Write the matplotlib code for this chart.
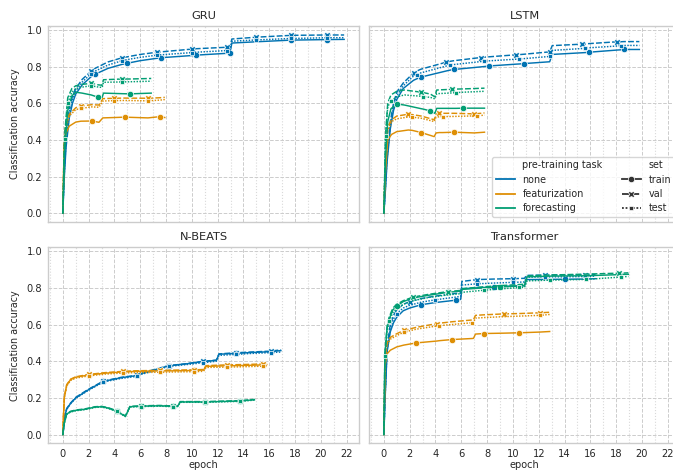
import numpy as np
import matplotlib
matplotlib.use('Agg')
import matplotlib.pyplot as plt
from matplotlib.lines import Line2D
from matplotlib.ticker import MultipleLocator

models = ['GRU', 'LSTM', 'N-BEATS', 'Transformer']
tasks = ['none', 'featurization', 'forecasting']
sets = ['train', 'val', 'test']

# ---- GRU ----
gru_none_epoch = [0, 0.1, 0.25, 0.5, 0.75, 1.0, 1.5, 2.2, 2.5, 3.5, 4.6, 5.0, 6.0, 7.3, 7.6, 10.0, 10.3, 12.7, 12.95, 13.1, 15.0, 17.7, 20.5, 21.8]
gru_none_train = [0.0, 0.18, 0.36, 0.52, 0.6, 0.65, 0.7, 0.745, 0.758, 0.79, 0.812, 0.818, 0.832, 0.845, 0.848, 0.86, 0.862, 0.872, 0.874, 0.928, 0.935, 0.944, 0.947, 0.948]
gru_none_val = [0.0, 0.22, 0.42, 0.57, 0.64, 0.68, 0.73, 0.775, 0.79, 0.825, 0.848, 0.853, 0.866, 0.878, 0.88, 0.895, 0.897, 0.905, 0.907, 0.95, 0.96, 0.97, 0.972, 0.972]
gru_none_test = [0.0, 0.2, 0.39, 0.55, 0.62, 0.665, 0.715, 0.762, 0.775, 0.808, 0.832, 0.838, 0.85, 0.862, 0.864, 0.876, 0.878, 0.887, 0.889, 0.938, 0.945, 0.953, 0.957, 0.957]
gru_none_marks = [[2.5, 5.0, 7.6, 10.3, 12.95, 17.7, 20.5], [2.2, 4.6, 7.3, 10.0, 12.7, 15.0, 17.7, 20.5], [2.2, 4.6, 7.3, 10.0, 12.7, 15.0, 17.7, 20.5]]

gru_feat_epoch = [0, 0.1, 0.2, 0.5, 1.0, 1.4, 2.25, 2.8, 3.1, 4.0, 4.78, 6.6, 7.55, 7.9]
gru_feat_train = [0.0, 0.36, 0.43, 0.475, 0.497, 0.502, 0.503, 0.496, 0.52, 0.522, 0.524, 0.52, 0.527, 0.522]
gru_feat_val = [0.0, 0.38, 0.47, 0.54, 0.575, 0.585, 0.592, 0.59, 0.625, 0.627, 0.628, 0.627, 0.63, 0.632]
gru_feat_test = [0.0, 0.37, 0.45, 0.53, 0.565, 0.572, 0.58, 0.578, 0.612, 0.614, 0.615, 0.613, 0.617, 0.62]
gru_feat_marks = [[2.25, 4.78, 7.55], [1.4, 4.0, 6.6], [1.4, 4.0, 6.6]]

gru_fore_epoch = [0, 0.13, 0.38, 0.7, 1.0, 1.5, 2.2, 2.76, 3.05, 3.15, 4.6, 5.2, 6.85]
gru_fore_train = [0.0, 0.33, 0.56, 0.64, 0.66, 0.655, 0.645, 0.632, 0.632, 0.655, 0.652, 0.651, 0.655]
gru_fore_val = [0.0, 0.42, 0.63, 0.68, 0.695, 0.703, 0.708, 0.7, 0.698, 0.728, 0.732, 0.732, 0.735]
gru_fore_test = [0.0, 0.404, 0.6, 0.66, 0.68, 0.688, 0.695, 0.688, 0.686, 0.714, 0.716, 0.717, 0.72]
gru_fore_marks = [[2.76, 5.2], [2.2, 4.6], [0.13, 0.38, 2.2, 4.6]]

# ---- LSTM ----
lstm_none_epoch = [0, 0.1, 0.25, 0.5, 0.75, 1.0, 1.5, 2.3, 2.55, 2.85, 4.85, 5.1, 5.45, 7.5, 7.8, 8.15, 10.25, 10.5, 10.85, 12.85, 13.05, 15.35, 15.6, 15.9, 18.1, 18.35, 18.6, 19.8]
lstm_none_train = [0.0, 0.1, 0.28, 0.46, 0.56, 0.62, 0.68, 0.725, 0.733, 0.742, 0.776, 0.78, 0.784, 0.798, 0.8, 0.803, 0.813, 0.814, 0.816, 0.826, 0.866, 0.875, 0.876, 0.878, 0.89, 0.891, 0.893, 0.893]
lstm_none_val = [0.0, 0.12, 0.32, 0.5, 0.6, 0.66, 0.71, 0.765, 0.775, 0.785, 0.824, 0.828, 0.832, 0.849, 0.851, 0.853, 0.864, 0.865, 0.867, 0.88, 0.914, 0.922, 0.923, 0.925, 0.935, 0.935, 0.936, 0.936]
lstm_none_test = [0.0, 0.11, 0.3, 0.48, 0.58, 0.64, 0.695, 0.748, 0.756, 0.765, 0.803, 0.807, 0.811, 0.827, 0.829, 0.831, 0.84, 0.841, 0.843, 0.855, 0.888, 0.898, 0.9, 0.902, 0.912, 0.914, 0.915, 0.915]
lstm_none_marks = [[2.85, 5.45, 8.15, 10.85, 15.9, 18.6], [2.3, 4.85, 7.5, 10.25, 12.85, 15.35, 18.1], [2.55, 5.1, 7.8, 10.5, 12.85, 15.6, 18.35]]

lstm_feat_epoch = [0, 0.1, 0.3, 0.6, 1.0, 1.9, 2.2, 2.9, 3.9, 4.05, 4.3, 4.55, 5.45, 7.0, 7.2, 7.8]
lstm_feat_train = [0.0, 0.2, 0.4, 0.43, 0.445, 0.454, 0.452, 0.44, 0.418, 0.438, 0.44, 0.44, 0.442, 0.438, 0.439, 0.442]
lstm_feat_val = [0.0, 0.25, 0.47, 0.51, 0.53, 0.54, 0.538, 0.53, 0.51, 0.54, 0.545, 0.545, 0.545, 0.542, 0.543, 0.547]
lstm_feat_test = [0.0, 0.24, 0.45, 0.5, 0.515, 0.525, 0.524, 0.518, 0.5, 0.524, 0.526, 0.527, 0.528, 0.531, 0.531, 0.535]
lstm_feat_marks = [[2.9, 5.45], [1.9, 4.3, 7.0], [2.2, 4.55, 7.2]]

lstm_fore_epoch = [0, 0.13, 0.3, 0.55, 1.0, 1.6, 2.9, 3.05, 3.6, 3.95, 4.1, 5.3, 5.58, 6.15, 7.8]
lstm_fore_train = [0.0, 0.3, 0.5, 0.57, 0.596, 0.59, 0.57, 0.568, 0.558, 0.545, 0.572, 0.572, 0.572, 0.573, 0.573]
lstm_fore_val = [0.0, 0.42, 0.6, 0.645, 0.665, 0.672, 0.66, 0.658, 0.65, 0.635, 0.672, 0.676, 0.677, 0.678, 0.682]
lstm_fore_test = [0.0, 0.42, 0.58, 0.613, 0.635, 0.645, 0.638, 0.636, 0.632, 0.624, 0.652, 0.656, 0.658, 0.66, 0.665]
lstm_fore_marks = [[1.0, 3.6, 6.15], [2.9, 5.3], [0.13, 0.55, 3.05, 5.58]]

# ---- N-BEATS ----
nbeats_none_epoch = [0, 0.05, 0.15, 0.3, 0.6, 1.0, 2.0, 3.15, 4.5, 5.75, 5.95, 7.2, 8.2, 9.5, 10.9, 11.9, 12.1, 13.4, 14.5, 16.1, 16.9]
nbeats_none_train = [0.0, 0.03, 0.1, 0.14, 0.17, 0.2, 0.245, 0.29, 0.31, 0.322, 0.33, 0.355, 0.375, 0.385, 0.398, 0.405, 0.438, 0.443, 0.447, 0.452, 0.458]
nbeats_none_val = [0.0, 0.03, 0.1, 0.142, 0.172, 0.203, 0.248, 0.292, 0.312, 0.323, 0.332, 0.357, 0.376, 0.386, 0.4, 0.406, 0.44, 0.446, 0.45, 0.455, 0.462]
nbeats_none_test = [0.0, 0.03, 0.098, 0.138, 0.168, 0.198, 0.242, 0.287, 0.306, 0.318, 0.326, 0.35, 0.372, 0.381, 0.392, 0.4, 0.432, 0.437, 0.442, 0.447, 0.45]
nbeats_none_marks = [[3.15, 8.2, 13.4], [3.15, 5.75, 8.2, 10.9, 13.4, 16.1], [3.15, 5.75, 8.2, 10.9, 13.4, 16.1]]

nbeats_feat_epoch = [0, 0.05, 0.12, 0.3, 0.6, 1.0, 2.0, 3.3, 4.7, 5.7, 7.5, 9.0, 10.2, 10.9, 11.1, 12.7, 14.0, 15.55, 15.8]
nbeats_feat_train = [0.0, 0.1, 0.205, 0.27, 0.3, 0.313, 0.325, 0.335, 0.342, 0.345, 0.347, 0.348, 0.35, 0.352, 0.372, 0.375, 0.377, 0.38, 0.382]
nbeats_feat_val = [0.0, 0.1, 0.207, 0.272, 0.302, 0.315, 0.328, 0.338, 0.345, 0.348, 0.35, 0.352, 0.353, 0.355, 0.376, 0.38, 0.382, 0.385, 0.388]
nbeats_feat_test = [0.0, 0.1, 0.2, 0.265, 0.295, 0.308, 0.32, 0.33, 0.336, 0.338, 0.34, 0.342, 0.343, 0.345, 0.366, 0.368, 0.37, 0.373, 0.376]
nbeats_feat_marks = [[2.0, 4.7, 7.5, 10.2, 12.7, 15.55], [2.0, 4.7, 7.5, 10.2, 12.7, 15.55], [2.0, 4.7, 7.5, 10.2, 12.7, 15.55]]

nbeats_fore_epoch = [0, 0.1, 0.3, 0.6, 1.0, 1.7, 2.5, 3.0, 3.5, 4.18, 4.6, 4.85, 5.2, 6.07, 7.5, 8.57, 8.9, 9.1, 11.0, 13.7, 14.85]
nbeats_fore_train = [0.0, 0.06, 0.112, 0.125, 0.132, 0.138, 0.15, 0.152, 0.145, 0.128, 0.11, 0.1, 0.152, 0.155, 0.157, 0.154, 0.155, 0.178, 0.178, 0.183, 0.19]
nbeats_fore_val = [0.0, 0.06, 0.114, 0.127, 0.134, 0.14, 0.152, 0.154, 0.147, 0.13, 0.112, 0.102, 0.154, 0.157, 0.159, 0.156, 0.157, 0.18, 0.18, 0.185, 0.192]
nbeats_fore_test = [0.0, 0.058, 0.11, 0.123, 0.13, 0.136, 0.148, 0.15, 0.143, 0.126, 0.108, 0.098, 0.15, 0.153, 0.155, 0.152, 0.153, 0.176, 0.176, 0.181, 0.188]
nbeats_fore_marks = [[4.18, 6.07, 8.57, 11.0, 13.7], [4.18, 6.07, 8.57, 11.0, 13.7], [4.18, 6.07, 8.57, 11.0, 13.7]]

# ---- Transformer ----
trans_none_epoch = [0, 0.1, 0.25, 0.5, 0.75, 1.0, 1.5, 2.0, 2.9, 4.0, 5.6, 5.95, 6.05, 7.2, 8.5, 10.0, 10.9, 11.05, 12.5, 14.0, 15.6, 16.4]
trans_none_train = [0.0, 0.2, 0.45, 0.56, 0.61, 0.64, 0.675, 0.69, 0.708, 0.72, 0.733, 0.737, 0.795, 0.8, 0.805, 0.81, 0.812, 0.845, 0.846, 0.847, 0.848, 0.85]
trans_none_val = [0.0, 0.22, 0.48, 0.6, 0.65, 0.68, 0.71, 0.725, 0.742, 0.755, 0.77, 0.772, 0.835, 0.845, 0.848, 0.85, 0.852, 0.868, 0.87, 0.87, 0.872, 0.873]
trans_none_test = [0.0, 0.21, 0.46, 0.58, 0.63, 0.66, 0.69, 0.705, 0.722, 0.735, 0.75, 0.754, 0.815, 0.822, 0.826, 0.83, 0.832, 0.858, 0.86, 0.86, 0.862, 0.864]
trans_none_marks = [[2.9, 5.6, 8.5, 14.0], [2.0, 7.2, 10.0, 12.5, 15.6], [1.0, 4.0, 7.2, 10.0, 12.5, 15.6]]

trans_feat_epoch = [0, 0.1, 0.25, 0.5, 1.0, 1.55, 2.53, 4.1, 4.3, 5.25, 6.87, 6.95, 7.1, 7.75, 9.3, 10.5, 12.1, 12.85]
trans_feat_train = [0.0, 0.38, 0.44, 0.46, 0.478, 0.488, 0.5, 0.51, 0.512, 0.518, 0.524, 0.525, 0.548, 0.551, 0.553, 0.555, 0.559, 0.562]
trans_feat_val = [0.0, 0.42, 0.5, 0.53, 0.55, 0.568, 0.585, 0.605, 0.607, 0.615, 0.625, 0.627, 0.65, 0.653, 0.658, 0.66, 0.664, 0.667]
trans_feat_test = [0.0, 0.41, 0.49, 0.52, 0.54, 0.558, 0.575, 0.592, 0.594, 0.6, 0.61, 0.612, 0.635, 0.638, 0.643, 0.646, 0.65, 0.655]
trans_feat_marks = [[2.53, 5.25, 7.75, 10.5], [1.55, 4.1, 9.3, 12.1], [1.55, 4.3, 6.87, 12.1]]

trans_fore_epoch = [0, 0.08, 0.25, 0.41, 0.7, 1.0, 1.5, 2.27, 3.5, 5.0, 5.95, 6.1, 7.75, 9.0, 10.5, 10.9, 11.1, 12.87, 15.7, 18.2, 18.4, 18.95]
trans_fore_train = [0.0, 0.43, 0.58, 0.63, 0.68, 0.7, 0.725, 0.745, 0.76, 0.776, 0.782, 0.792, 0.8, 0.805, 0.81, 0.812, 0.86, 0.864, 0.866, 0.872, 0.873, 0.874]
trans_fore_val = [0.0, 0.44, 0.59, 0.64, 0.69, 0.71, 0.73, 0.75, 0.765, 0.78, 0.786, 0.796, 0.806, 0.812, 0.818, 0.82, 0.865, 0.87, 0.875, 0.88, 0.88, 0.882]
trans_fore_test = [0.0, 0.427, 0.56, 0.618, 0.665, 0.685, 0.71, 0.73, 0.748, 0.762, 0.768, 0.776, 0.787, 0.794, 0.802, 0.803, 0.838, 0.842, 0.846, 0.858, 0.86, 0.862]
trans_fore_marks = [[1.0, 5.0, 9.0], [2.27, 5.0, 18.2], [0.08, 0.41, 7.75, 10.5, 12.87, 15.7, 18.4]]

curves = {
    'GRU': [(gru_none_epoch, [gru_none_train, gru_none_val, gru_none_test], gru_none_marks),
            (gru_feat_epoch, [gru_feat_train, gru_feat_val, gru_feat_test], gru_feat_marks),
            (gru_fore_epoch, [gru_fore_train, gru_fore_val, gru_fore_test], gru_fore_marks)],
    'LSTM': [(lstm_none_epoch, [lstm_none_train, lstm_none_val, lstm_none_test], lstm_none_marks),
             (lstm_feat_epoch, [lstm_feat_train, lstm_feat_val, lstm_feat_test], lstm_feat_marks),
             (lstm_fore_epoch, [lstm_fore_train, lstm_fore_val, lstm_fore_test], lstm_fore_marks)],
    'N-BEATS': [(nbeats_none_epoch, [nbeats_none_train, nbeats_none_val, nbeats_none_test], nbeats_none_marks),
                (nbeats_feat_epoch, [nbeats_feat_train, nbeats_feat_val, nbeats_feat_test], nbeats_feat_marks),
                (nbeats_fore_epoch, [nbeats_fore_train, nbeats_fore_val, nbeats_fore_test], nbeats_fore_marks)],
    'Transformer': [(trans_none_epoch, [trans_none_train, trans_none_val, trans_none_test], trans_none_marks),
                    (trans_feat_epoch, [trans_feat_train, trans_feat_val, trans_feat_test], trans_feat_marks),
                    (trans_fore_epoch, [trans_fore_train, trans_fore_val, trans_fore_test], trans_fore_marks)],
}

colors = ['#0173b2', '#de8f05', '#029e73']
set_styles = {
    'train': dict(ls='-', marker='o', ms=4.6),
    'val': dict(ls=(0, (4, 1.5)), marker='X', ms=4.6),
    'test': dict(ls=(0, (1, 1)), marker='s', ms=3.5),
}

plt.rcParams['font.family'] = 'DejaVu Sans'
plt.rcParams['axes.edgecolor'] = '0.8'
plt.rcParams['axes.linewidth'] = 1.0
plt.rcParams['xtick.color'] = '0.15'
plt.rcParams['ytick.color'] = '0.15'
plt.rcParams['text.color'] = '0.15'
plt.rcParams['axes.labelcolor'] = '0.15'

fig = plt.figure(figsize=(6.73, 4.71), dpi=100)
lefts = [0.0713, 0.5483]
bottoms = [0.5287, 0.0588]
w, h = 0.4621, 0.4165

axes = []
for i, model in enumerate(models):
    r, c = divmod(i, 2)
    ax = fig.add_axes([lefts[c], bottoms[r], w, h])
    axes.append(ax)
    ax.set_xlim(-1.15, 22.95)
    ax.set_ylim(-0.0475, 1.022)
    ax.xaxis.set_major_locator(MultipleLocator(2))
    ax.xaxis.set_minor_locator(MultipleLocator(1))
    ax.yaxis.set_major_locator(MultipleLocator(0.2))
    ax.grid(which='major', color='0.8', ls='--', lw=0.7)
    ax.grid(which='minor', axis='x', color='0.85', ls=':', lw=0.8)
    ax.set_axisbelow(True)
    ax.tick_params(which='both', length=0, labelsize=7.1, pad=4)
    ax.set_title(model, fontsize=8.2, pad=5)
    for s in ax.spines.values():
        s.set_color('0.8')

    for t, (epoch, series, marks) in enumerate(curves[model]):
        for k, name in enumerate(sets):
            vals = series[k]
            assert len(vals) == len(epoch), (model, t, name)
            idx = [epoch.index(m) for m in marks[k]]
            st = set_styles[name]
            ax.plot(epoch, vals, color=colors[t], lw=1.05, ls=st['ls'],
                    marker=st['marker'], ms=st['ms'], markevery=idx,
                    mec='white', mew=0.5)

    if r == 0:
        ax.tick_params(labelbottom=False)
    else:
        ax.set_xlabel('epoch', fontsize=7, labelpad=1)
    if c == 1:
        ax.tick_params(labelleft=False)
    else:
        ax.set_ylabel('Classification accuracy', fontsize=6.9, labelpad=5)

# legend in the LSTM panel
handles = [Line2D([], [], color='none', label='pre-training task')]
for t, name in enumerate(tasks):
    handles.append(Line2D([], [], color=colors[t], lw=1.3, label=name))
handles.append(Line2D([], [], color='none', label='set'))
for name in sets:
    st = set_styles[name]
    handles.append(Line2D([], [], color='0.2', lw=1.3, ls=st['ls'], marker=st['marker'],
                          ms=st['ms'], mec='white', mew=0.5, label=name))
axes[1].legend(handles=handles, ncol=2, loc='lower right', fontsize=6.9,
               labelspacing=0.45, frameon=True, edgecolor='0.8', fancybox=True)

fig.savefig('out.png', dpi=100)
